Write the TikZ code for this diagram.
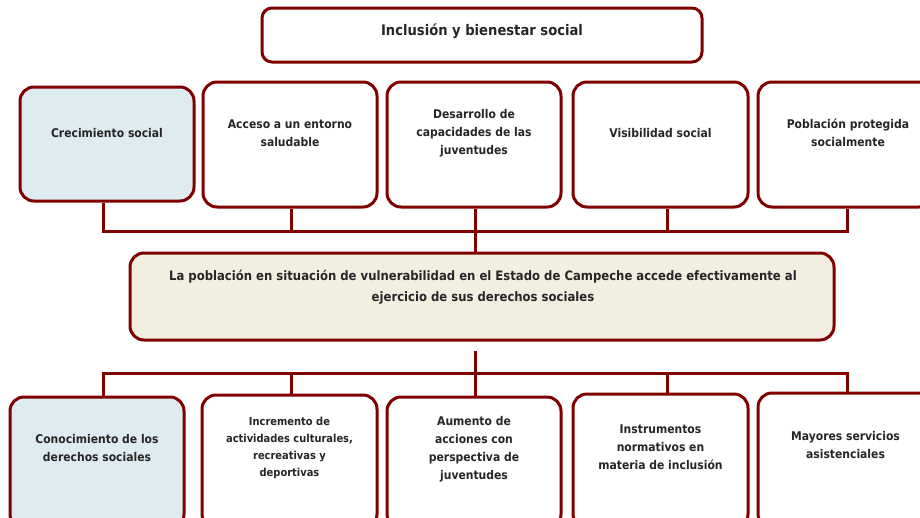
\documentclass[tikz,border=0pt]{standalone}
\usepackage{fontspec}
\setmainfont{DejaVu Sans Condensed}
\definecolor{lred}{RGB}{128,0,0}
\definecolor{lblue}{RGB}{222,235,240}
\definecolor{lbeige}{RGB}{242,238,224}
\begin{document}
\begin{tikzpicture}[x=1pt,y=-1pt,
  box/.style={draw=lred,line width=3pt,rounded corners=14pt,fill=white,inner sep=0pt},
  txt/.style={align=center,font=\fontsize{12}{18}\selectfont\bfseries,text=black!85},
  conn/.style={draw=lred,line width=3pt}]
\useasboundingbox (0,0) rectangle (920,517);
\clip (0,0) rectangle (920,517);
% title
\node[box,rounded corners=10pt,minimum width=440pt,minimum height=54pt] (T) at (482,35) {};
\node[txt,font=\fontsize{14.6}{17}\selectfont\bfseries] (Tt) at (482,31) {Inclusión y bienestar social};
% top row
\node[box,fill=lblue,minimum width=174pt,minimum height=114pt] (B1) at (107,144) {};
\node[box,minimum width=174pt,minimum height=125pt] (B2) at (290,144.5) {};
\node[box,minimum width=174pt,minimum height=125pt] (B3) at (474,144.5) {};
\node[box,minimum width=175pt,minimum height=125pt] (B4) at (660.5,144.5) {};
\node[box,minimum width=175pt,minimum height=125pt] (B5) at (845.5,144.5) {};
\node[txt] (B1t) at (107,133) {Crecimiento social};
\node[txt] (B2t) at (290,133) {Acceso a un entorno\\saludable};
\node[txt] (B3t) at (474,133) {Desarrollo de\\capacidades de las\\juventudes};
\node[txt] (B4t) at (660.5,133) {Visibilidad social};
\node[txt] (B5t) at (848,133) {Población protegida\\socialmente};
% main
\node[box,fill=lbeige,minimum width=704pt,minimum height=87pt] (M) at (482,296.5) {};
\node[txt,font=\fontsize{12.95}{21}\selectfont\bfseries] (Mt) at (483,287) {La población en situación de vulnerabilidad en el Estado de Campeche accede efectivamente al\\ejercicio de sus derechos sociales};
% bottom row
\node[box,fill=lblue,minimum width=174pt,minimum height=131pt] (C1) at (97,462.5) {};
\node[box,minimum width=175pt,minimum height=133pt] (C2) at (289.5,461.5) {};
\node[box,minimum width=174pt,minimum height=131pt] (C3) at (474,462.5) {};
\node[box,minimum width=175pt,minimum height=134pt] (C4) at (660.5,461) {};
\node[box,minimum width=175pt,minimum height=135pt] (C5) at (845.5,460.5) {};
\node[txt] (C1t) at (97,448) {Conocimiento de los\\derechos sociales};
\node[txt,font=\fontsize{11}{17}\selectfont\bfseries] (C2t) at (289.5,448) {Incremento de\\actividades culturales,\\recreativas y\\deportivas};
\node[txt] (C3t) at (474,449) {Aumento de\\acciones con\\perspectiva de\\juventudes};
\node[txt] (C4t) at (660.5,447) {Instrumentos\\normativos en\\materia de inclusión};
\node[txt] (C5t) at (845.5,445) {Mayores servicios\\asistenciales};
% upper connectors
\coordinate (u1) at (103,231);
\coordinate (u2) at (291,231);
\coordinate (u3) at (475,231);
\coordinate (u4) at (667,231);
\coordinate (u5) at (847,231);
\draw[conn] (u1 |- B1.south) -- (u1) -- (u5) -- (u5 |- B5.south);
\draw[conn] (u2 |- B2.south) -- (u2);
\draw[conn] (u3 |- B3.south) -- (u3 |- M.north);
\draw[conn] (u4 |- B4.south) -- (u4);
% lower connectors
\coordinate (l1) at (103,373);
\coordinate (l2) at (291,373);
\coordinate (l3) at (475,373);
\coordinate (l4) at (667,373);
\coordinate (l5) at (847,373);
\coordinate (ls) at (475,351);
\draw[conn] (l1 |- C1.north) -- (l1) -- (l5) -- (l5 |- C5.north);
\draw[conn] (l2 |- C2.north) -- (l2);
\draw[conn] (ls) -- (l3 |- C3.north);
\draw[conn] (l4 |- C4.north) -- (l4);
\end{tikzpicture}
\end{document}
